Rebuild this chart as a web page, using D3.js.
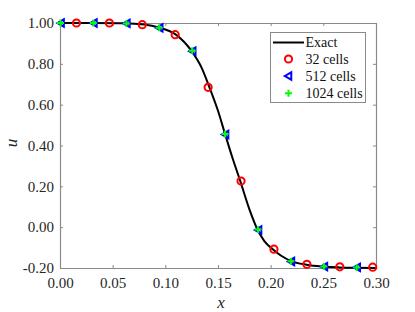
<!DOCTYPE html>
<html>
<head>
<meta charset="utf-8">
<script src="https://cdn.jsdelivr.net/npm/d3@7"></script>
<style>
  html, body { margin: 0; padding: 0; background: #fff; }
  svg { display: block; }
  svg text { font-family: "Liberation Serif", Tinos, "Times New Roman", Times, serif; }
</style>
</head>
<body>
<svg id="chart" width="415" height="312"></svg>
<script>
// ---- data ----
const exactX = [0, 0.03, 0.06, 0.08, 0.094, 0.11, 0.125, 0.1345, 0.1415, 0.15, 0.1567, 0.164, 0.171, 0.18, 0.1877, 0.194, 0.202, 0.21, 0.219, 0.234, 0.25, 0.265, 0.28, 0.3];
const exactU = [1.0, 1.0, 0.999, 0.993, 0.978, 0.943, 0.862, 0.78, 0.69, 0.57, 0.456, 0.335, 0.228, 0.085, -0.014, -0.068, -0.108, -0.14, -0.165, -0.184, -0.193, -0.197, -0.199, -0.2];

const cells32X = [0.015625, 0.046875, 0.078125, 0.109375, 0.140625, 0.171875, 0.203125, 0.234375, 0.265625, 0.296875];
const cells32U = [1.0, 1.0, 0.992, 0.943, 0.685, 0.226, -0.108, -0.182, -0.194, -0.196];

const cells512X = [0.001, 0.0322, 0.0635, 0.0947, 0.126, 0.1572, 0.1885, 0.2197, 0.251, 0.2822];
const cells512U = [1.0, 1.0, 0.998, 0.976, 0.862, 0.454, -0.014, -0.168, -0.193, -0.197];

const cells1024X = [0.0005, 0.0317, 0.063, 0.0942, 0.1255, 0.1567, 0.188, 0.2192, 0.2505, 0.2817];
const cells1024U = [1.0, 1.0, 0.998, 0.977, 0.864, 0.456, -0.012, -0.167, -0.193, -0.197];

const xTicks = [0, 0.05, 0.10, 0.15, 0.20, 0.25, 0.30];
const yTicks = [-0.2, 0, 0.2, 0.4, 0.6, 0.8, 1.0];
const legendLabels = ["Exact", "32 cells", "512 cells", "1024 cells"];

// ---- layout ----
const FONT = '"Liberation Serif", Tinos, "Times New Roman", Times, serif';
const svg = d3.select("#chart");
const L = 60, R = 376, T = 23, B = 268;
const x = d3.scaleLinear().domain([0, 0.3]).range([L, R]);
const y = d3.scaleLinear().domain([-0.2, 1.0]).range([B, T]);
const axisColor = "#8a8a8a";
const textColor = "#262626";
const fmt = v => { const s = d3.format(".2f")(Math.abs(v)); return (v < -1e-9 ? "-" : "") + s; };

function styleAxis(g) {
  g.attr("font-family", FONT);
  g.select(".domain").attr("stroke", axisColor).attr("stroke-width", 1.2);
  g.selectAll(".tick line").attr("stroke", axisColor).attr("stroke-width", 1);
  g.selectAll(".tick text").attr("fill", textColor).attr("font-size", 15).attr("font-family", FONT);
}

// bottom axis
svg.append("g").attr("transform", `translate(0,${B})`)
  .call(d3.axisBottom(x).tickValues(xTicks).tickFormat(fmt).tickSizeInner(-3).tickSizeOuter(0).tickPadding(9))
  .call(styleAxis);
// left axis
svg.append("g").attr("transform", `translate(${L},0)`)
  .call(d3.axisLeft(y).tickValues(yTicks).tickFormat(fmt).tickSizeInner(-3).tickSizeOuter(0).tickPadding(6))
  .call(styleAxis);
// top axis (no labels)
svg.append("g").attr("transform", `translate(0,${T})`)
  .call(d3.axisTop(x).tickValues(xTicks).tickFormat("").tickSizeInner(-3).tickSizeOuter(0))
  .call(styleAxis);
// right axis (no labels)
svg.append("g").attr("transform", `translate(${R},0)`)
  .call(d3.axisRight(y).tickValues(yTicks).tickFormat("").tickSizeInner(-3).tickSizeOuter(0))
  .call(styleAxis);

// axis titles
svg.append("text").attr("x", 221).attr("y", 308).attr("text-anchor", "middle")
  .attr("font-family", FONT).attr("font-size", 17).attr("font-style", "italic").attr("fill", textColor).text("x");
svg.append("text").attr("transform", "translate(17,143) rotate(-90)").attr("text-anchor", "middle")
  .attr("font-family", FONT).attr("font-size", 17).attr("font-style", "italic").attr("fill", textColor).text("u");

// exact line
const exactData = exactX.map((v, i) => [v, exactU[i]]);
svg.append("path").datum(exactData)
  .attr("fill", "none").attr("stroke", "#000").attr("stroke-width", 2)
  .attr("d", d3.line().x(d => x(d[0])).y(d => y(d[1])).curve(d3.curveMonotoneX));

// markers
const triPath = s => `M${-s},0 L${s * 0.75},${-s} L${s * 0.75},${s} Z`;

function drawCircles(g, cx, cy) {
  g.append("circle").attr("cx", cx).attr("cy", cy).attr("r", 3.6)
    .attr("fill", "none").attr("stroke", "#ff0000").attr("stroke-width", 2);
}
function drawTri(g, cx, cy) {
  g.append("path").attr("transform", `translate(${cx},${cy})`).attr("d", triPath(3.7))
    .attr("fill", "none").attr("stroke", "#0000ff").attr("stroke-width", 2).attr("stroke-linejoin", "miter");
}
function drawPlus(g, cx, cy) {
  g.append("path").attr("transform", `translate(${cx},${cy})`).attr("d", "M-3.5,0H3.5M0,-3.5V3.5")
    .attr("stroke", "#00ff00").attr("stroke-width", 2);
}

const mk = svg.append("g");
cells32X.forEach((v, i) => drawCircles(mk, x(v), y(cells32U[i])));
cells512X.forEach((v, i) => drawTri(mk, x(v), y(cells512U[i])));
cells1024X.forEach((v, i) => drawPlus(mk, x(v), y(cells1024U[i])));

// legend
const lg = svg.append("g");
lg.append("rect").attr("x", 270.5).attr("y", 32.5).attr("width", 95).attr("height", 70)
  .attr("fill", "#fff").attr("stroke", axisColor).attr("stroke-width", 1);
const rowY = [42.5, 59, 76, 93.3];
lg.append("line").attr("x1", 273).attr("x2", 304).attr("y1", rowY[0]).attr("y2", rowY[0])
  .attr("stroke", "#000").attr("stroke-width", 2);
drawCircles(lg, 288.5, rowY[1]);
drawTri(lg, 288.5, rowY[2]);
drawPlus(lg, 288.5, rowY[3]);
legendLabels.forEach((t, i) => {
  lg.append("text").attr("x", 305.5).attr("y", rowY[i]).attr("dy", "0.34em")
    .attr("font-family", FONT).attr("font-size", 14).attr("fill", "#111").text(t);
});
</script>
</body>
</html>
